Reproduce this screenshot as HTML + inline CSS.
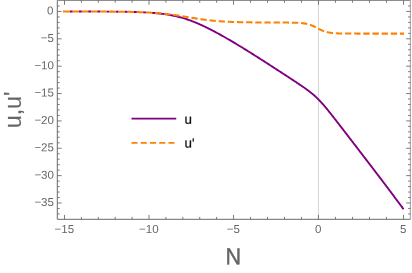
<!DOCTYPE html>
<html><head><meta charset="utf-8"><style>
html,body{margin:0;padding:0;background:#fff;}
body{width:412px;height:273px;overflow:hidden;font-family:"Liberation Sans",sans-serif;}
svg{display:block;will-change:transform;} text{filter:grayscale(1);}
</style></head><body>
<svg width="412" height="273" viewBox="0 0 412 273">
<rect width="412" height="273" fill="#fff"/>
<line x1="318.45" y1="0.35" x2="318.45" y2="219.30" stroke="#d6d6d6" stroke-width="1"/>
<path d="M62.98 11.51 L63.83 11.51 L64.68 11.51 L65.52 11.51 L66.37 11.51 L67.22 11.51 L68.07 11.51 L68.91 11.51 L69.76 11.51 L70.61 11.51 L71.46 11.51 L72.30 11.51 L73.15 11.51 L74.00 11.52 L74.84 11.52 L75.69 11.52 L76.54 11.52 L77.39 11.52 L78.23 11.52 L79.08 11.52 L79.93 11.52 L80.77 11.52 L81.62 11.52 L82.47 11.52 L83.32 11.53 L84.16 11.53 L85.01 11.53 L85.86 11.53 L86.70 11.53 L87.55 11.53 L88.40 11.53 L89.25 11.54 L90.09 11.54 L90.94 11.54 L91.79 11.54 L92.64 11.54 L93.48 11.55 L94.33 11.55 L95.18 11.55 L96.02 11.55 L96.87 11.56 L97.72 11.56 L98.57 11.56 L99.41 11.57 L100.26 11.57 L101.11 11.57 L101.95 11.58 L102.80 11.58 L103.65 11.58 L104.50 11.59 L105.34 11.59 L106.19 11.60 L107.04 11.60 L107.88 11.61 L108.73 11.61 L109.58 11.62 L110.43 11.62 L111.27 11.63 L112.12 11.64 L112.97 11.64 L113.82 11.65 L114.66 11.66 L115.51 11.67 L116.36 11.67 L117.20 11.68 L118.05 11.69 L118.90 11.70 L119.75 11.71 L120.59 11.72 L121.44 11.73 L122.29 11.75 L123.13 11.76 L123.98 11.77 L124.83 11.78 L125.68 11.80 L126.52 11.81 L127.37 11.83 L128.22 11.85 L129.06 11.86 L129.91 11.88 L130.76 11.90 L131.61 11.92 L132.45 11.94 L133.30 11.96 L134.15 11.99 L135.00 12.01 L135.84 12.03 L136.69 12.06 L137.54 12.09 L138.38 12.12 L139.23 12.15 L140.08 12.18 L140.93 12.21 L141.77 12.25 L142.62 12.29 L143.47 12.33 L144.31 12.37 L145.16 12.41 L146.01 12.45 L146.86 12.50 L147.70 12.55 L148.55 12.60 L149.40 12.65 L150.25 12.71 L151.09 12.77 L151.94 12.83 L152.79 12.89 L153.63 12.96 L154.48 13.03 L155.33 13.11 L156.18 13.18 L157.02 13.26 L157.87 13.35 L158.72 13.43 L159.56 13.53 L160.41 13.62 L161.26 13.72 L162.11 13.82 L162.95 13.93 L163.80 14.04 L164.65 14.16 L165.49 14.28 L166.34 14.41 L167.19 14.54 L168.04 14.68 L168.88 14.82 L169.73 14.97 L170.58 15.12 L171.43 15.28 L172.27 15.45 L173.12 15.62 L173.97 15.80 L174.81 15.98 L175.66 16.17 L176.51 16.36 L177.36 16.57 L178.20 16.78 L179.05 16.99 L179.90 17.21 L180.74 17.44 L181.59 17.68 L182.44 17.92 L183.29 18.17 L184.13 18.42 L184.98 18.69 L185.83 18.96 L186.67 19.23 L187.52 19.51 L188.37 19.80 L189.22 20.10 L190.06 20.40 L190.91 20.71 L191.76 21.03 L192.61 21.35 L193.45 21.68 L194.30 22.02 L195.15 22.36 L195.99 22.71 L196.84 23.06 L197.69 23.42 L198.54 23.79 L199.38 24.16 L200.23 24.54 L201.08 24.92 L201.92 25.30 L202.77 25.70 L203.62 26.09 L204.47 26.50 L205.31 26.90 L206.16 27.31 L207.01 27.73 L207.86 28.15 L208.70 28.57 L209.55 29.00 L210.40 29.43 L211.24 29.87 L212.09 30.31 L212.94 30.75 L213.79 31.20 L214.63 31.64 L215.48 32.10 L216.33 32.55 L217.17 33.01 L218.02 33.47 L218.87 33.93 L219.72 34.40 L220.56 34.87 L221.41 35.34 L222.26 35.82 L223.10 36.29 L223.95 36.77 L224.80 37.25 L225.65 37.73 L226.49 38.22 L227.34 38.71 L228.19 39.20 L229.04 39.69 L229.88 40.18 L230.73 40.68 L231.58 41.17 L232.42 41.67 L233.27 42.17 L234.12 42.67 L234.97 43.18 L235.81 43.68 L236.66 44.19 L237.51 44.70 L238.35 45.21 L239.20 45.72 L240.05 46.24 L240.90 46.75 L241.74 47.27 L242.59 47.79 L243.44 48.31 L244.28 48.83 L245.13 49.35 L245.98 49.88 L246.83 50.40 L247.67 50.93 L248.52 51.45 L249.37 51.98 L250.22 52.51 L251.06 53.04 L251.91 53.58 L252.76 54.11 L253.60 54.64 L254.45 55.18 L255.30 55.72 L256.15 56.25 L256.99 56.79 L257.84 57.33 L258.69 57.87 L259.53 58.41 L260.38 58.95 L261.23 59.49 L262.08 60.03 L262.92 60.58 L263.77 61.12 L264.62 61.66 L265.46 62.21 L266.31 62.75 L267.16 63.30 L268.01 63.85 L268.85 64.39 L269.70 64.94 L270.55 65.49 L271.40 66.04 L272.24 66.58 L273.09 67.13 L273.94 67.68 L274.78 68.23 L275.63 68.78 L276.48 69.33 L277.33 69.88 L278.17 70.43 L279.02 70.98 L279.87 71.53 L280.71 72.09 L281.56 72.64 L282.41 73.19 L283.26 73.74 L284.10 74.29 L284.95 74.85 L285.80 75.40 L286.65 75.95 L287.49 76.51 L288.34 77.06 L289.19 77.62 L290.03 78.17 L290.88 78.73 L291.73 79.29 L292.58 79.84 L293.42 80.40 L294.27 80.96 L295.12 81.52 L295.96 82.08 L296.81 82.65 L297.66 83.21 L298.51 83.78 L299.35 84.35 L300.20 84.92 L301.05 85.50 L301.89 86.08 L302.74 86.66 L303.59 87.25 L304.44 87.84 L305.28 88.44 L306.13 89.05 L306.98 89.67 L307.83 90.30 L308.67 90.93 L309.52 91.58 L310.37 92.24 L311.21 92.92 L312.06 93.62 L312.91 94.33 L313.76 95.06 L314.60 95.80 L315.45 96.57 L316.30 97.37 L317.14 98.18 L317.99 99.01 L318.84 99.87 L319.69 100.75 L320.53 101.65 L321.38 102.57 L322.23 103.51 L323.07 104.47 L323.92 105.44 L324.77 106.43 L325.62 107.43 L326.46 108.45 L327.31 109.47 L328.16 110.51 L329.01 111.56 L329.85 112.61 L330.70 113.67 L331.55 114.74 L332.39 115.81 L333.24 116.89 L334.09 117.97 L334.94 119.05 L335.78 120.14 L336.63 121.23 L337.48 122.32 L338.32 123.41 L339.17 124.51 L340.02 125.61 L340.87 126.70 L341.71 127.80 L342.56 128.90 L343.41 130.00 L344.26 131.10 L345.10 132.21 L345.95 133.31 L346.80 134.41 L347.64 135.51 L348.49 136.62 L349.34 137.72 L350.19 138.82 L351.03 139.93 L351.88 141.03 L352.73 142.13 L353.57 143.24 L354.42 144.34 L355.27 145.45 L356.12 146.55 L356.96 147.66 L357.81 148.76 L358.66 149.87 L359.50 150.97 L360.35 152.07 L361.20 153.18 L362.05 154.28 L362.89 155.39 L363.74 156.49 L364.59 157.60 L365.44 158.70 L366.28 159.81 L367.13 160.91 L367.98 162.02 L368.82 163.12 L369.67 164.23 L370.52 165.33 L371.37 166.44 L372.21 167.55 L373.06 168.65 L373.91 169.76 L374.75 170.88 L375.60 171.99 L376.45 173.10 L377.30 174.21 L378.14 175.33 L378.99 176.44 L379.84 177.56 L380.68 178.68 L381.53 179.79 L382.38 180.91 L383.23 182.03 L384.07 183.16 L384.92 184.28 L385.77 185.40 L386.62 186.52 L387.46 187.65 L388.31 188.78 L389.16 189.90 L390.00 191.03 L390.85 192.16 L391.70 193.29 L392.55 194.42 L393.39 195.55 L394.24 196.68 L395.09 197.82 L395.93 198.95 L396.78 200.09 L397.63 201.22 L398.48 202.36 L399.32 203.50 L400.17 204.64 L401.02 205.78 L401.86 206.92 L402.71 208.06 L403.56 209.21" fill="none" stroke="#800080" stroke-width="1.9" stroke-linejoin="round"/>
<clipPath id="cl"><rect x="0" y="0" width="152" height="30"/></clipPath>
<path d="M62.98 11.51 L63.83 11.51 L64.68 11.51 L65.53 11.51 L66.38 11.51 L67.22 11.51 L68.07 11.51 L68.92 11.51 L69.77 11.51 L70.62 11.51 L71.47 11.51 L72.31 11.51 L73.16 11.51 L74.01 11.51 L74.86 11.52 L75.71 11.52 L76.56 11.52 L77.40 11.52 L78.25 11.52 L79.10 11.52 L79.95 11.52 L80.80 11.52 L81.65 11.52 L82.49 11.52 L83.34 11.53 L84.19 11.53 L85.04 11.53 L85.89 11.53 L86.74 11.53 L87.58 11.53 L88.43 11.53 L89.28 11.54 L90.13 11.54 L90.98 11.54 L91.83 11.54 L92.68 11.54 L93.52 11.55 L94.37 11.55 L95.22 11.55 L96.07 11.55 L96.92 11.56 L97.77 11.56 L98.61 11.56 L99.46 11.56 L100.31 11.57 L101.16 11.57 L102.01 11.57 L102.86 11.58 L103.70 11.58 L104.55 11.59 L105.40 11.59 L106.25 11.60 L107.10 11.60 L107.95 11.61 L108.79 11.61 L109.64 11.62 L110.49 11.62 L111.34 11.63 L112.19 11.63 L113.04 11.64 L113.88 11.65 L114.73 11.66 L115.58 11.66 L116.43 11.67 L117.28 11.68 L118.13 11.69 L118.97 11.70 L119.82 11.71 L120.67 11.72 L121.52 11.73 L122.37 11.74 L123.22 11.75 L124.06 11.76 L124.91 11.78 L125.76 11.79 L126.61 11.80 L127.46 11.82 L128.31 11.84 L129.15 11.85 L130.00 11.87 L130.85 11.89 L131.70 11.91 L132.55 11.93 L133.40 11.95 L134.24 11.97 L135.09 11.99 L135.94 12.01 L136.79 12.04 L137.64 12.06 L138.49 12.09 L139.33 12.12 L140.18 12.15 L141.03 12.18 L141.88 12.21 L142.73 12.25 L143.58 12.28 L144.42 12.32 L145.27 12.36 L146.12 12.40 L146.97 12.44 L147.82 12.48 L148.67 12.53 L149.51 12.58 L150.36 12.62 L151.21 12.68 L152.06 12.73 L152.91 12.78 L153.76 12.84 L154.60 12.90 L155.45 12.96 L156.30 13.03 L157.15 13.09 L158.00 13.16 L158.85 13.23 L159.69 13.31 L160.54 13.39 L161.39 13.47 L162.24 13.55 L163.09 13.63 L163.94 13.72 L164.78 13.81 L165.63 13.90 L166.48 14.00 L167.33 14.09 L168.18 14.20 L169.03 14.30 L169.87 14.40 L170.72 14.51 L171.57 14.62 L172.42 14.74 L173.27 14.85 L174.12 14.97 L174.96 15.09 L175.81 15.22 L176.66 15.34 L177.51 15.47 L178.36 15.60 L179.21 15.73 L180.05 15.86 L180.90 16.00 L181.75 16.13 L182.60 16.27 L183.45 16.41 L184.30 16.54 L185.14 16.68 L185.99 16.82 L186.84 16.96 L187.69 17.11 L188.54 17.25 L189.39 17.39 L190.23 17.53 L191.08 17.67 L191.93 17.81 L192.78 17.95 L193.63 18.08 L194.48 18.22 L195.32 18.36 L196.17 18.49 L197.02 18.62 L197.87 18.75 L198.72 18.88 L199.57 19.01 L200.41 19.13 L201.26 19.25 L202.11 19.37 L202.96 19.49 L203.81 19.61 L204.66 19.72 L205.50 19.83 L206.35 19.93 L207.20 20.04 L208.05 20.14 L208.90 20.24 L209.75 20.33 L210.59 20.43 L211.44 20.52 L212.29 20.61 L213.14 20.69 L213.99 20.77 L214.84 20.85 L215.68 20.93 L216.53 21.00 L217.38 21.07 L218.23 21.14 L219.08 21.20 L219.93 21.27 L220.77 21.33 L221.62 21.38 L222.47 21.44 L223.32 21.49 L224.17 21.54 L225.02 21.59 L225.86 21.64 L226.71 21.68 L227.56 21.73 L228.41 21.77 L229.26 21.81 L230.11 21.84 L230.95 21.88 L231.80 21.91 L232.65 21.94 L233.50 21.97 L234.35 22.00 L235.20 22.03 L236.05 22.06 L236.89 22.08 L237.74 22.10 L238.59 22.13 L239.44 22.15 L240.29 22.17 L241.14 22.19 L241.98 22.21 L242.83 22.22 L243.68 22.24 L244.53 22.26 L245.38 22.27 L246.23 22.29 L247.07 22.30 L247.92 22.31 L248.77 22.32 L249.62 22.34 L250.47 22.35 L251.32 22.36 L252.16 22.37 L253.01 22.38 L253.86 22.39 L254.71 22.40 L255.56 22.40 L256.41 22.41 L257.25 22.42 L258.10 22.43 L258.95 22.43 L259.80 22.44 L260.65 22.45 L261.50 22.45 L262.34 22.46 L263.19 22.47 L264.04 22.47 L264.89 22.48 L265.74 22.48 L266.59 22.49 L267.43 22.49 L268.28 22.49 L269.13 22.50 L269.98 22.50 L270.83 22.51 L271.68 22.51 L272.52 22.51 L273.37 22.52 L274.22 22.52 L275.07 22.53 L275.92 22.53 L276.77 22.53 L277.61 22.54 L278.46 22.54 L279.31 22.54 L280.16 22.55 L281.01 22.55 L281.86 22.56 L282.70 22.56 L283.55 22.56 L284.40 22.57 L285.25 22.58 L286.10 22.58 L286.95 22.59 L287.79 22.60 L288.64 22.60 L289.49 22.61 L290.34 22.63 L291.19 22.64 L292.04 22.65 L292.88 22.67 L293.73 22.69 L294.58 22.71 L295.43 22.74 L296.28 22.77 L297.13 22.80 L297.97 22.84 L298.82 22.89 L299.67 22.95 L300.52 23.01 L301.37 23.08 L302.22 23.17 L303.06 23.27 L303.91 23.38 L304.76 23.51 L305.61 23.65 L306.46 23.82 L307.31 24.01 L308.15 24.22 L309.00 24.46 L309.85 24.73 L310.70 25.02 L311.55 25.34 L312.40 25.68 L313.24 26.05 L314.09 26.45 L314.94 26.86 L315.79 27.29 L316.64 27.72 L317.49 28.17 L318.33 28.61 L319.18 29.04 L320.03 29.46 L320.88 29.87 L321.73 30.26 L322.58 30.62 L323.42 30.95 L324.27 31.26 L325.12 31.55 L325.97 31.80 L326.82 32.03 L327.67 32.23 L328.51 32.42 L329.36 32.57 L330.21 32.71 L331.06 32.84 L331.91 32.94 L332.76 33.04 L333.60 33.12 L334.45 33.19 L335.30 33.25 L336.15 33.30 L337.00 33.34 L337.85 33.38 L338.69 33.41 L339.54 33.44 L340.39 33.46 L341.24 33.48 L342.09 33.50 L342.94 33.52 L343.78 33.53 L344.63 33.54 L345.48 33.55 L346.33 33.56 L347.18 33.56 L348.03 33.57 L348.87 33.57 L349.72 33.58 L350.57 33.58 L351.42 33.58 L352.27 33.59 L353.12 33.59 L353.96 33.59 L354.81 33.59 L355.66 33.59 L356.51 33.60 L357.36 33.60 L358.21 33.60 L359.05 33.60 L359.90 33.60 L360.75 33.60 L361.60 33.60 L362.45 33.60 L363.30 33.60 L364.14 33.60 L364.99 33.60 L365.84 33.60 L366.69 33.60 L367.54 33.60 L368.39 33.60 L369.23 33.60 L370.08 33.60 L370.93 33.60 L371.78 33.60 L372.63 33.60 L373.48 33.60 L374.32 33.60 L375.17 33.60 L376.02 33.60 L376.87 33.60 L377.72 33.60 L378.57 33.60 L379.42 33.60 L380.26 33.60 L381.11 33.60 L381.96 33.60 L382.81 33.60 L383.66 33.60 L384.51 33.60 L385.35 33.60 L386.20 33.60 L387.05 33.60 L387.90 33.60 L388.75 33.60 L389.60 33.60 L390.44 33.60 L391.29 33.60 L392.14 33.60 L392.99 33.60 L393.84 33.60 L394.69 33.60 L395.53 33.60 L396.38 33.60 L397.23 33.60 L398.08 33.60 L398.93 33.60 L399.78 33.60 L400.62 33.60 L401.47 33.60 L402.32 33.60 L403.17 33.60 L404.02 33.60" fill="none" stroke="#fff" stroke-width="3.4" stroke-dasharray="6.33 2.828" stroke-dashoffset="-0.56" clip-path="url(#cl)"/>
<line x1="62.98" y1="11.5" x2="63.6" y2="11.5" stroke="#fff" stroke-width="3.4"/>
<path d="M62.98 11.51 L63.83 11.51 L64.68 11.51 L65.53 11.51 L66.38 11.51 L67.22 11.51 L68.07 11.51 L68.92 11.51 L69.77 11.51 L70.62 11.51 L71.47 11.51 L72.31 11.51 L73.16 11.51 L74.01 11.51 L74.86 11.52 L75.71 11.52 L76.56 11.52 L77.40 11.52 L78.25 11.52 L79.10 11.52 L79.95 11.52 L80.80 11.52 L81.65 11.52 L82.49 11.52 L83.34 11.53 L84.19 11.53 L85.04 11.53 L85.89 11.53 L86.74 11.53 L87.58 11.53 L88.43 11.53 L89.28 11.54 L90.13 11.54 L90.98 11.54 L91.83 11.54 L92.68 11.54 L93.52 11.55 L94.37 11.55 L95.22 11.55 L96.07 11.55 L96.92 11.56 L97.77 11.56 L98.61 11.56 L99.46 11.56 L100.31 11.57 L101.16 11.57 L102.01 11.57 L102.86 11.58 L103.70 11.58 L104.55 11.59 L105.40 11.59 L106.25 11.60 L107.10 11.60 L107.95 11.61 L108.79 11.61 L109.64 11.62 L110.49 11.62 L111.34 11.63 L112.19 11.63 L113.04 11.64 L113.88 11.65 L114.73 11.66 L115.58 11.66 L116.43 11.67 L117.28 11.68 L118.13 11.69 L118.97 11.70 L119.82 11.71 L120.67 11.72 L121.52 11.73 L122.37 11.74 L123.22 11.75 L124.06 11.76 L124.91 11.78 L125.76 11.79 L126.61 11.80 L127.46 11.82 L128.31 11.84 L129.15 11.85 L130.00 11.87 L130.85 11.89 L131.70 11.91 L132.55 11.93 L133.40 11.95 L134.24 11.97 L135.09 11.99 L135.94 12.01 L136.79 12.04 L137.64 12.06 L138.49 12.09 L139.33 12.12 L140.18 12.15 L141.03 12.18 L141.88 12.21 L142.73 12.25 L143.58 12.28 L144.42 12.32 L145.27 12.36 L146.12 12.40 L146.97 12.44 L147.82 12.48 L148.67 12.53 L149.51 12.58 L150.36 12.62 L151.21 12.68 L152.06 12.73 L152.91 12.78 L153.76 12.84 L154.60 12.90 L155.45 12.96 L156.30 13.03 L157.15 13.09 L158.00 13.16 L158.85 13.23 L159.69 13.31 L160.54 13.39 L161.39 13.47 L162.24 13.55 L163.09 13.63 L163.94 13.72 L164.78 13.81 L165.63 13.90 L166.48 14.00 L167.33 14.09 L168.18 14.20 L169.03 14.30 L169.87 14.40 L170.72 14.51 L171.57 14.62 L172.42 14.74 L173.27 14.85 L174.12 14.97 L174.96 15.09 L175.81 15.22 L176.66 15.34 L177.51 15.47 L178.36 15.60 L179.21 15.73 L180.05 15.86 L180.90 16.00 L181.75 16.13 L182.60 16.27 L183.45 16.41 L184.30 16.54 L185.14 16.68 L185.99 16.82 L186.84 16.96 L187.69 17.11 L188.54 17.25 L189.39 17.39 L190.23 17.53 L191.08 17.67 L191.93 17.81 L192.78 17.95 L193.63 18.08 L194.48 18.22 L195.32 18.36 L196.17 18.49 L197.02 18.62 L197.87 18.75 L198.72 18.88 L199.57 19.01 L200.41 19.13 L201.26 19.25 L202.11 19.37 L202.96 19.49 L203.81 19.61 L204.66 19.72 L205.50 19.83 L206.35 19.93 L207.20 20.04 L208.05 20.14 L208.90 20.24 L209.75 20.33 L210.59 20.43 L211.44 20.52 L212.29 20.61 L213.14 20.69 L213.99 20.77 L214.84 20.85 L215.68 20.93 L216.53 21.00 L217.38 21.07 L218.23 21.14 L219.08 21.20 L219.93 21.27 L220.77 21.33 L221.62 21.38 L222.47 21.44 L223.32 21.49 L224.17 21.54 L225.02 21.59 L225.86 21.64 L226.71 21.68 L227.56 21.73 L228.41 21.77 L229.26 21.81 L230.11 21.84 L230.95 21.88 L231.80 21.91 L232.65 21.94 L233.50 21.97 L234.35 22.00 L235.20 22.03 L236.05 22.06 L236.89 22.08 L237.74 22.10 L238.59 22.13 L239.44 22.15 L240.29 22.17 L241.14 22.19 L241.98 22.21 L242.83 22.22 L243.68 22.24 L244.53 22.26 L245.38 22.27 L246.23 22.29 L247.07 22.30 L247.92 22.31 L248.77 22.32 L249.62 22.34 L250.47 22.35 L251.32 22.36 L252.16 22.37 L253.01 22.38 L253.86 22.39 L254.71 22.40 L255.56 22.40 L256.41 22.41 L257.25 22.42 L258.10 22.43 L258.95 22.43 L259.80 22.44 L260.65 22.45 L261.50 22.45 L262.34 22.46 L263.19 22.47 L264.04 22.47 L264.89 22.48 L265.74 22.48 L266.59 22.49 L267.43 22.49 L268.28 22.49 L269.13 22.50 L269.98 22.50 L270.83 22.51 L271.68 22.51 L272.52 22.51 L273.37 22.52 L274.22 22.52 L275.07 22.53 L275.92 22.53 L276.77 22.53 L277.61 22.54 L278.46 22.54 L279.31 22.54 L280.16 22.55 L281.01 22.55 L281.86 22.56 L282.70 22.56 L283.55 22.56 L284.40 22.57 L285.25 22.58 L286.10 22.58 L286.95 22.59 L287.79 22.60 L288.64 22.60 L289.49 22.61 L290.34 22.63 L291.19 22.64 L292.04 22.65 L292.88 22.67 L293.73 22.69 L294.58 22.71 L295.43 22.74 L296.28 22.77 L297.13 22.80 L297.97 22.84 L298.82 22.89 L299.67 22.95 L300.52 23.01 L301.37 23.08 L302.22 23.17 L303.06 23.27 L303.91 23.38 L304.76 23.51 L305.61 23.65 L306.46 23.82 L307.31 24.01 L308.15 24.22 L309.00 24.46 L309.85 24.73 L310.70 25.02 L311.55 25.34 L312.40 25.68 L313.24 26.05 L314.09 26.45 L314.94 26.86 L315.79 27.29 L316.64 27.72 L317.49 28.17 L318.33 28.61 L319.18 29.04 L320.03 29.46 L320.88 29.87 L321.73 30.26 L322.58 30.62 L323.42 30.95 L324.27 31.26 L325.12 31.55 L325.97 31.80 L326.82 32.03 L327.67 32.23 L328.51 32.42 L329.36 32.57 L330.21 32.71 L331.06 32.84 L331.91 32.94 L332.76 33.04 L333.60 33.12 L334.45 33.19 L335.30 33.25 L336.15 33.30 L337.00 33.34 L337.85 33.38 L338.69 33.41 L339.54 33.44 L340.39 33.46 L341.24 33.48 L342.09 33.50 L342.94 33.52 L343.78 33.53 L344.63 33.54 L345.48 33.55 L346.33 33.56 L347.18 33.56 L348.03 33.57 L348.87 33.57 L349.72 33.58 L350.57 33.58 L351.42 33.58 L352.27 33.59 L353.12 33.59 L353.96 33.59 L354.81 33.59 L355.66 33.59 L356.51 33.60 L357.36 33.60 L358.21 33.60 L359.05 33.60 L359.90 33.60 L360.75 33.60 L361.60 33.60 L362.45 33.60 L363.30 33.60 L364.14 33.60 L364.99 33.60 L365.84 33.60 L366.69 33.60 L367.54 33.60 L368.39 33.60 L369.23 33.60 L370.08 33.60 L370.93 33.60 L371.78 33.60 L372.63 33.60 L373.48 33.60 L374.32 33.60 L375.17 33.60 L376.02 33.60 L376.87 33.60 L377.72 33.60 L378.57 33.60 L379.42 33.60 L380.26 33.60 L381.11 33.60 L381.96 33.60 L382.81 33.60 L383.66 33.60 L384.51 33.60 L385.35 33.60 L386.20 33.60 L387.05 33.60 L387.90 33.60 L388.75 33.60 L389.60 33.60 L390.44 33.60 L391.29 33.60 L392.14 33.60 L392.99 33.60 L393.84 33.60 L394.69 33.60 L395.53 33.60 L396.38 33.60 L397.23 33.60 L398.08 33.60 L398.93 33.60 L399.78 33.60 L400.62 33.60 L401.47 33.60 L402.32 33.60 L403.17 33.60 L404.02 33.60" fill="none" stroke="#ff8000" stroke-width="2.05" stroke-dasharray="6.33 2.828" stroke-dashoffset="-0.56" stroke-linejoin="round"/>
<line x1="62.98" y1="11.5" x2="63.6" y2="11.5" stroke="#ff8000" stroke-width="1.9"/>
<g stroke="#6a6a6a" stroke-width="1" fill="none">
<path d="M57.30 0.35 V219.30 H410.50"/>
</g>
<path d="M57.30 0.25 H410.50" stroke="#6a6a6a" stroke-width="1" fill="none"/>
<path d="M410.35 0.35 V219.30" stroke="#9c9c9c" stroke-width="1" fill="none"/>
<path d="M64.50 219.30 v-4.40 M64.50 0.35 v4.40 M81.40 219.30 v-2.40 M81.40 0.35 v2.40 M98.30 219.30 v-2.40 M98.30 0.35 v2.40 M115.20 219.30 v-2.40 M115.20 0.35 v2.40 M132.10 219.30 v-2.40 M132.10 0.35 v2.40 M149.00 219.30 v-4.40 M149.00 0.35 v4.40 M165.91 219.30 v-2.40 M165.91 0.35 v2.40 M182.82 219.30 v-2.40 M182.82 0.35 v2.40 M199.73 219.30 v-2.40 M199.73 0.35 v2.40 M216.64 219.30 v-2.40 M216.64 0.35 v2.40 M233.55 219.30 v-4.40 M233.55 0.35 v4.40 M250.53 219.30 v-2.40 M250.53 0.35 v2.40 M267.51 219.30 v-2.40 M267.51 0.35 v2.40 M284.49 219.30 v-2.40 M284.49 0.35 v2.40 M301.47 219.30 v-2.40 M301.47 0.35 v2.40 M318.45 219.30 v-4.40 M318.45 0.35 v4.40 M335.46 219.30 v-2.40 M335.46 0.35 v2.40 M352.47 219.30 v-2.40 M352.47 0.35 v2.40 M369.48 219.30 v-2.40 M369.48 0.35 v2.40 M386.49 219.30 v-2.40 M386.49 0.35 v2.40 M403.50 219.30 v-4.40 M403.50 0.35 v4.40 M57.30 213.95 h2.40 M410.50 213.95 h-2.40 M57.30 208.48 h2.40 M410.50 208.48 h-2.40 M57.30 203.00 h4.30 M410.50 203.00 h-4.30 M57.30 197.53 h2.40 M410.50 197.53 h-2.40 M57.30 192.06 h2.40 M410.50 192.06 h-2.40 M57.30 186.59 h2.40 M410.50 186.59 h-2.40 M57.30 181.11 h2.40 M410.50 181.11 h-2.40 M57.30 175.64 h4.30 M410.50 175.64 h-4.30 M57.30 170.17 h2.40 M410.50 170.17 h-2.40 M57.30 164.69 h2.40 M410.50 164.69 h-2.40 M57.30 159.22 h2.40 M410.50 159.22 h-2.40 M57.30 153.75 h2.40 M410.50 153.75 h-2.40 M57.30 148.27 h4.30 M410.50 148.27 h-4.30 M57.30 142.80 h2.40 M410.50 142.80 h-2.40 M57.30 137.33 h2.40 M410.50 137.33 h-2.40 M57.30 131.86 h2.40 M410.50 131.86 h-2.40 M57.30 126.38 h2.40 M410.50 126.38 h-2.40 M57.30 120.91 h4.30 M410.50 120.91 h-4.30 M57.30 115.44 h2.40 M410.50 115.44 h-2.40 M57.30 109.96 h2.40 M410.50 109.96 h-2.40 M57.30 104.49 h2.40 M410.50 104.49 h-2.40 M57.30 99.02 h2.40 M410.50 99.02 h-2.40 M57.30 93.55 h4.30 M410.50 93.55 h-4.30 M57.30 88.07 h2.40 M410.50 88.07 h-2.40 M57.30 82.60 h2.40 M410.50 82.60 h-2.40 M57.30 77.13 h2.40 M410.50 77.13 h-2.40 M57.30 71.65 h2.40 M410.50 71.65 h-2.40 M57.30 66.18 h4.30 M410.50 66.18 h-4.30 M57.30 60.71 h2.40 M410.50 60.71 h-2.40 M57.30 55.23 h2.40 M410.50 55.23 h-2.40 M57.30 49.76 h2.40 M410.50 49.76 h-2.40 M57.30 44.29 h2.40 M410.50 44.29 h-2.40 M57.30 38.81 h4.30 M410.50 38.81 h-4.30 M57.30 33.34 h2.40 M410.50 33.34 h-2.40 M57.30 27.87 h2.40 M410.50 27.87 h-2.40 M57.30 22.40 h2.40 M410.50 22.40 h-2.40 M57.30 16.92 h2.40 M410.50 16.92 h-2.40 M57.30 11.45 h4.30 M410.50 11.45 h-4.30 M57.30 5.98 h2.40 M410.50 5.98 h-2.40" stroke="#6a6a6a" stroke-width="0.88" fill="none"/>
<g font-family="'Liberation Sans', sans-serif" font-size="11.5" fill="#666">
<text transform="translate(64.30 232.95) rotate(0.2)" text-anchor="middle">−15</text>
<text transform="translate(148.80 232.95) rotate(0.2)" text-anchor="middle">−10</text>
<text transform="translate(233.35 232.95) rotate(0.2)" text-anchor="middle">−5</text>
<text transform="translate(318.15 232.95) rotate(0.2)" text-anchor="middle">0</text>
<text transform="translate(403.20 232.95) rotate(0.2)" text-anchor="middle">5</text>
<text transform="translate(53.90 206.10) rotate(0.2)" text-anchor="end">−35</text>
<text transform="translate(53.90 178.74) rotate(0.2)" text-anchor="end">−30</text>
<text transform="translate(53.90 151.37) rotate(0.2)" text-anchor="end">−25</text>
<text transform="translate(53.90 124.01) rotate(0.2)" text-anchor="end">−20</text>
<text transform="translate(53.90 96.64) rotate(0.2)" text-anchor="end">−15</text>
<text transform="translate(53.90 69.28) rotate(0.2)" text-anchor="end">−10</text>
<text transform="translate(53.90 41.91) rotate(0.2)" text-anchor="end">−5</text>
<text transform="translate(53.50 14.55) rotate(0.2)" text-anchor="end">0</text>
</g>
<text transform="translate(233.3 264.4) rotate(0.2) scale(1 1.075)" text-anchor="middle" font-family="'Liberation Sans', sans-serif" font-size="21.5" fill="#666" stroke="#666" stroke-width="0.45">N</text>
<text transform="translate(20.7 109.9) rotate(-90)" text-anchor="middle" font-family="'Liberation Sans', sans-serif" font-size="23.3" fill="#666" stroke="#666" stroke-width="0.15">u,u'</text>
<line x1="131.5" y1="118.7" x2="176.25" y2="118.7" stroke="#800080" stroke-width="1.7"/>
<line x1="131.5" y1="142.9" x2="176.25" y2="142.9" stroke="#ff8000" stroke-width="1.7" stroke-dasharray="6 3.25"/>
<g font-family="'Liberation Sans', sans-serif" font-size="13.4" fill="#111" stroke="#111" stroke-width="0.25">
<text transform="translate(184.6 123.8) rotate(0.2)">u</text>
<text transform="translate(184.6 147.6) rotate(0.2)">u'</text>
</g>
</svg>
</body></html>
